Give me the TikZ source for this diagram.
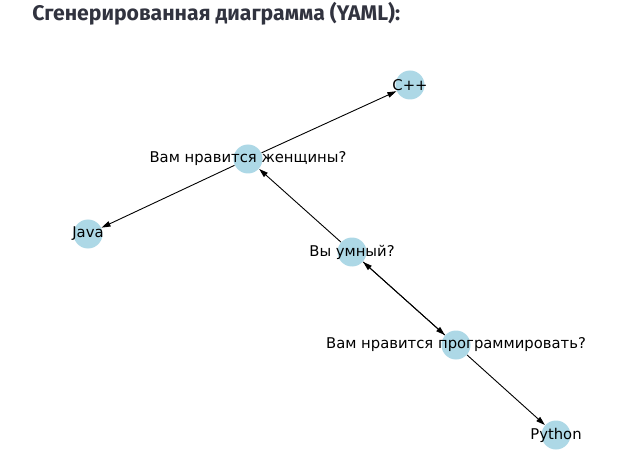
\documentclass[tikz,border=0pt]{standalone}
\usepackage{fontspec}
\setmainfont{DejaVu Sans}
\newfontfamily\titlefont{Fira Sans}
\usetikzlibrary{arrows.meta}
\definecolor{nodeblue}{HTML}{ADD8E6}
\definecolor{titlegray}{RGB}{49,51,63}

\begin{document}
\begin{tikzpicture}[x=1pt,y=-1pt,->,>={Triangle[length=9pt,width=5.5pt]},draw=black,line width=0.9pt]
    \tikzstyle{vertex}=[circle,fill=nodeblue,minimum size=29pt,inner sep=0pt]
    \tikzstyle{caption}=[font=\fontsize{14.8}{17}\selectfont,text=black,inner sep=0pt]
    \tikzstyle{heading}=[anchor=base west,inner sep=0pt,text=titlegray,font=\titlefont\bfseries\fontsize{21.2}{25}\selectfont]
    \useasboundingbox (0,0) rectangle (629,473);

    % Title above the graph.
    \node[heading] (title) at (32,21) {Сгенерированная диаграмма (YAML):};

    % Draw the question and answer nodes.
    \foreach \name / \x / \y / \lbl in {cpp/410/85/C++, women/248/159/Вам нравится женщины?,
            java/88/234/Java, smart/352/252/Вы умный?,
            prog/456/345/Вам нравится программировать?, python/556/435/Python}
        \node[vertex,label={[caption]center:\lbl}] (Q-\name) at (\x,\y) {};

    % Connect the nodes.
    \path (Q-women) edge (Q-cpp);
    \path (Q-women) edge (Q-java);
    \path (Q-smart) edge (Q-women);
    \path (Q-prog) edge (Q-smart);
    \path (Q-smart) edge (Q-prog);
    \path (Q-prog) edge (Q-python);
\end{tikzpicture}
\end{document}
